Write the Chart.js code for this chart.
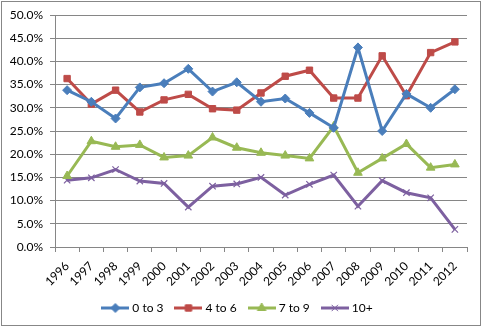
<!DOCTYPE html>
<html>
<head>
<meta charset="utf-8">
<script src="https://cdn.jsdelivr.net/npm/chart.js@4/dist/chart.umd.min.js"></script>
<style>
  html, body { margin: 0; padding: 0; background: #fff; }
  #wrap { width: 483px; height: 328px; position: relative; }
</style>
</head>
<body>
<div id="wrap"><canvas id="c" width="483" height="328"></canvas></div>
<script>
// Years on the horizontal axis
const years = ['1996','1997','1998','1999','2000','2001','2002','2003','2004',
               '2005','2006','2007','2008','2009','2010','2011','2012'];

// Share of each group per year (percent)
const group0to3 = [33.8, 31.3, 27.7, 34.4, 35.3, 38.4, 33.5, 35.5, 31.3, 32.0, 28.9, 25.7, 43.0, 25.0, 33.0, 30.0, 34.0];
const group4to6 = [36.3, 30.8, 33.8, 29.1, 31.7, 32.9, 29.8, 29.5, 33.2, 36.8, 38.1, 32.1, 32.1, 41.2, 32.6, 41.9, 44.2];
const group7to9 = [15.3, 22.8, 21.6, 22.0, 19.3, 19.7, 23.6, 21.4, 20.3, 19.7, 19.1, 26.0, 16.0, 19.1, 22.2, 17.1, 17.8];
const group10up = [14.4, 14.9, 16.7, 14.2, 13.7,  8.6, 13.1, 13.6, 15.0, 11.2, 13.5, 15.5,  8.8, 14.3, 11.7, 10.6,  3.8];

const seriesNames = ['0 to 3', '4 to 6', '7 to 9', '10+'];

// Value axis ticks
const yTicks = [0, 5, 10, 15, 20, 25, 30, 35, 40, 45, 50];

const FONT = 'Lato, "Liberation Sans", sans-serif';
const GRID = '#868686';

const styles = [
  { color: '#4A7EBB', point: 'rectRot',  radius: 4.5 },
  { color: '#BE4B48', point: 'rect',     radius: 4.5 },
  { color: '#98B954', point: 'triangle', radius: 5 },
  { color: '#7D60A0', point: 'crossRot', radius: 4.5 }
];

// Small legend swatch: a line segment with the series marker in the middle
function legendSwatch(s) {
  const cv = document.createElement('canvas');
  cv.width = 28; cv.height = 12;
  const g = cv.getContext('2d');
  g.strokeStyle = s.color; g.lineWidth = 3;
  g.beginPath(); g.moveTo(0, 6); g.lineTo(28, 6); g.stroke();
  g.fillStyle = s.color;
  g.lineWidth = 1;
  Chart.helpers.drawPoint(g, { pointStyle: s.point, radius: s.radius, borderWidth: 1 }, 14, 6);
  return cv;
}

const seriesValues = [group0to3, group4to6, group7to9, group10up];

const datasets = seriesValues.map((vals, i) => ({
  label: seriesNames[i],
  data: vals,
  borderColor: styles[i].color,
  backgroundColor: styles[i].color,
  borderWidth: 3,
  tension: 0,
  pointStyle: styles[i].point,
  pointRadius: styles[i].radius,
  pointHoverRadius: styles[i].radius,
  pointBorderColor: styles[i].color,
  pointBackgroundColor: styles[i].color,
  pointBorderWidth: styles[i].point === 'crossRot' ? 1.2 : 1
}));

// Outer frame around the whole chart
const frame = {
  id: 'frame',
  afterDraw(chart) {
    const ctx = chart.ctx;
    ctx.save();
    ctx.strokeStyle = '#878787';
    ctx.lineWidth = 1;
    ctx.strokeRect(1.5, 1.5, 479, 324);
    ctx.restore();
  }
};

new Chart(document.getElementById('c'), {
  type: 'line',
  data: { labels: years, datasets },
  plugins: [frame],
  options: {
    responsive: false,
    animation: false,
    layout: { padding: { left: 10, right: 16, top: 15, bottom: 4 } },
    plugins: {
      tooltip: { enabled: false },
      legend: {
        position: 'bottom',
        labels: {
          font: { family: FONT, size: 12 },
          color: '#000',
          usePointStyle: true,
          pointStyleWidth: 22,
          padding: 14,
          generateLabels(chart) {
            return chart.data.datasets.map((d, i) => ({
              text: d.label,
              fillStyle: d.borderColor,
              strokeStyle: d.borderColor,
              lineWidth: 0,
              pointStyle: legendSwatch(styles[i]),
              datasetIndex: i,
              hidden: false,
              fontColor: '#000'
            }));
          }
        }
      }
    },
    scales: {
      x: {
        type: 'category',
        offset: true,
        grid: {
          offset: true,
          drawOnChartArea: false,
          drawTicks: true,
          tickLength: 5,
          color: GRID
        },
        border: { color: GRID, width: 1 },
        ticks: {
          font: { family: FONT, size: 12 },
          color: '#000',
          maxRotation: 45,
          minRotation: 45,
          autoSkip: false,
          padding: 7
        },
        afterFit(scale) { scale.height = 41; }
      },
      y: {
        min: 0,
        max: 50,
        afterBuildTicks(scale) { scale.ticks = yTicks.map(v => ({ value: v })); },
        grid: {
          color: GRID,
          tickLength: 5,
          drawTicks: true
        },
        border: { color: GRID, width: 1 },
        ticks: {
          font: { family: FONT, size: 12 },
          color: '#000',
          padding: 7,
          callback: v => v.toFixed(1) + '%'
        },
        afterFit(scale) { scale.width = 45; }
      }
    }
  }
});
</script>
</body>
</html>
